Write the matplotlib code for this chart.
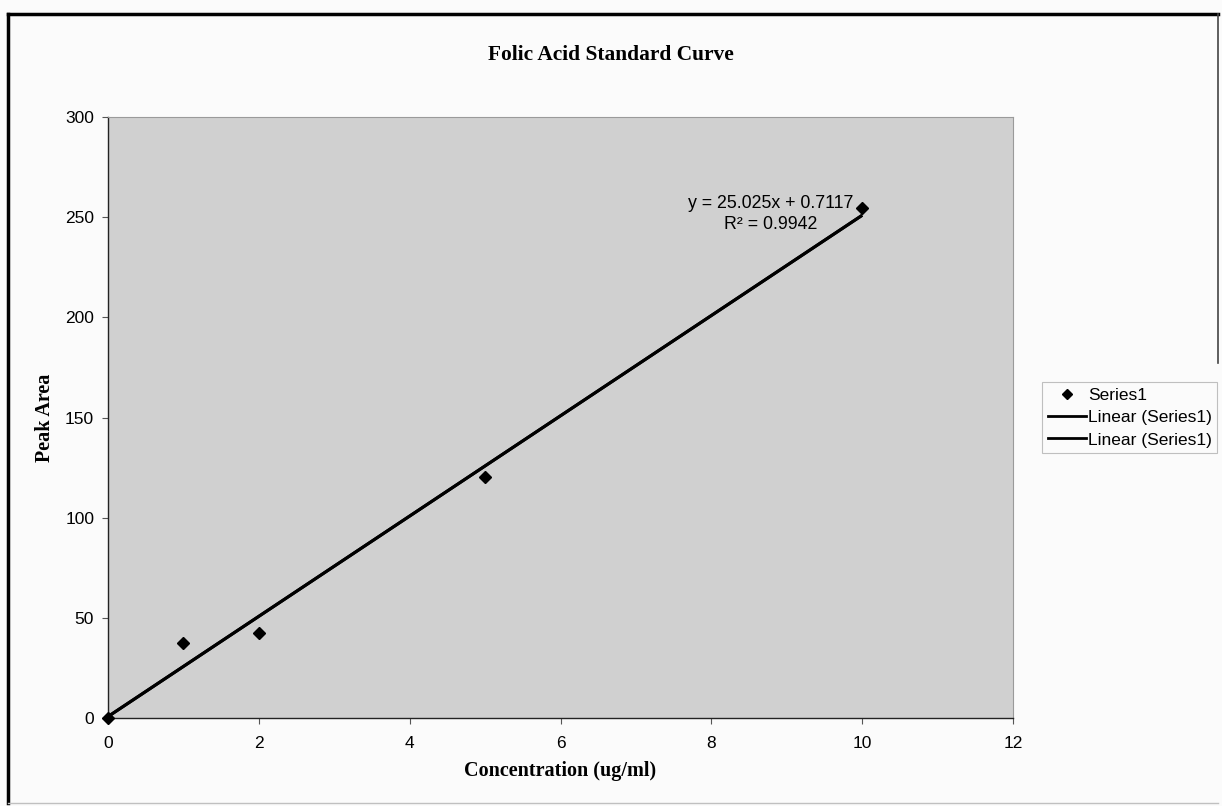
import numpy as np
import matplotlib
matplotlib.use('Agg')
from matplotlib import pyplot as plt
from matplotlib.lines import Line2D

plt.rc('font', family='Liberation Sans', size=12.5)

# standard curve data
conc = [0, 1, 2, 5, 10]
peak_area = [0, 37.4, 42.4, 120.4, 254.8]

# trendline coefficients from Excel
slope = 25.025
intercept = 0.7117
r_squared = 0.9942

xticks = [0, 2, 4, 6, 8, 10, 12]
yticks = [0, 50, 100, 150, 200, 250, 300]

fig = plt.figure(figsize=(12.22, 8.06), dpi=100)
fig.patch.set_facecolor('#fbfbfb')
ax = fig.add_axes([0.0884, 0.1092, 0.7406, 0.7456])
ax.set_facecolor('#d0d0d0')

# two identical linear trendlines over the data range
xfit = np.array([conc[0], conc[-1]])
yfit = slope * xfit + intercept
ax.plot(xfit, yfit, color='black', lw=2.2, solid_capstyle='butt', zorder=3)
ax.plot(xfit, yfit, color='black', lw=2.2, solid_capstyle='butt', zorder=3)
ax.plot(conc, peak_area, linestyle='none', marker='D', ms=6.5, color='black',
        zorder=4, clip_on=False)

ax.set_xlim(0, 12)
ax.set_ylim(0, 300)
ax.set_xticks(xticks)
ax.set_yticks(yticks)
ax.tick_params(direction='out', length=4, width=0.8, color='#555555', labelsize=12.5)
ax.tick_params(axis='x', pad=9)
ax.tick_params(axis='y', pad=6)
ax.spines['left'].set_color('#222222')
ax.spines['bottom'].set_color('#222222')
ax.spines['top'].set_color('#9a9a9a')
ax.spines['right'].set_color('#9a9a9a')
ax.spines['left'].set_linewidth(1.0)
ax.spines['bottom'].set_linewidth(1.0)

ax.text(8.79, 251.5, 'y = 25.025x + 0.7117\nR² = 0.9942', ha='center', va='center',
        fontsize=12.8, linespacing=1.35, zorder=5)

fig.text(0.5, 0.932, 'Folic Acid Standard Curve', ha='center', va='center',
         family='Liberation Serif', weight='bold', fontsize=15.4)
fig.text(0.037, 0.482, 'Peak Area', ha='center', va='center', rotation=90,
         family='Liberation Serif', weight='bold', fontsize=14.5)
fig.text(0.458, 0.043, 'Concentration (ug/ml)', ha='center', va='center',
         family='Liberation Serif', weight='bold', fontsize=14.5)

# legend entries
handles = [Line2D([], [], linestyle='none', marker='D', ms=5, color='black'),
           Line2D([], [], color='black', lw=2),
           Line2D([], [], color='black', lw=2)]
labels = ['Series1', 'Linear (Series1)', 'Linear (Series1)']
leg = fig.legend(handles, labels, loc='center left', bbox_to_anchor=(0.853, 0.482),
                 frameon=True, fancybox=False, fontsize=12.5, handlelength=2.2,
                 handletextpad=0.15, labelspacing=0.42, borderpad=0.3, borderaxespad=0)
leg.get_frame().set_edgecolor('#b0b0b0')
leg.get_frame().set_linewidth(0.8)
leg.get_frame().set_facecolor('#fbfbfb')

# chart frame
fig.add_artist(Line2D([0.0065, 0.0065], [0.004, 0.983], color='black', lw=2.5))
fig.add_artist(Line2D([0.0065, 0.997], [0.983, 0.983], color='black', lw=2.5))
fig.add_artist(Line2D([0.997, 0.997], [0.55, 0.983], color='#444444', lw=1.2))
fig.add_artist(Line2D([0.0065, 0.997], [0.004, 0.004], color='#c0c0c0', lw=1.0))

fig.savefig('out.png', dpi=100, facecolor=fig.get_facecolor())
